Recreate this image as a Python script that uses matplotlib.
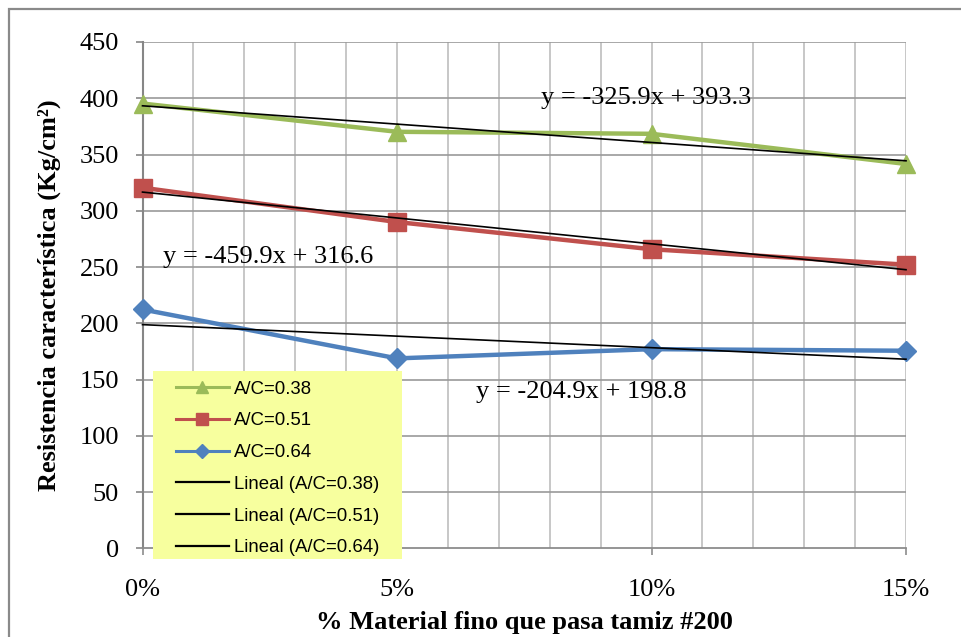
import matplotlib
matplotlib.use("Agg")
import matplotlib.pyplot as plt
from matplotlib.lines import Line2D
from matplotlib.patches import Rectangle
import numpy as np

# Fraction of fines passing sieve #200
fines = [0.00, 0.05, 0.10, 0.15]
x_ticks = [0.00, 0.05, 0.10, 0.15]
x_tick_labels = ["0%", "5%", "10%", "15%"]
y_ticks = [0, 50, 100, 150, 200, 250, 300, 350, 400, 450]

# Characteristic strength (Kg/cm2) for each water/cement ratio
series_names = ["A/C=0.38", "A/C=0.51", "A/C=0.64"]
strength_038 = [395.3, 370.2, 368.4, 341.6]
strength_051 = [320.5, 290.0, 265.8, 252.1]
strength_064 = [212.3, 168.8, 177.0, 175.6]

# Linear trend coefficients (y = slope * x + intercept)
trend_slopes = [-325.9, -459.9, -204.9]
trend_intercepts = [393.3, 316.6, 198.8]
trend_label_pos = [(0.099, 400.5), (0.0247, 259.0), (0.0863, 139.0)]

colors = ["#9BBB59", "#C0504D", "#4F81BD"]
markers = ["^", "s", "D"]
marker_sizes = [13, 13, 10]

W, H = 961, 637
fig = plt.figure(figsize=(W / 100, H / 100), dpi=100)

# Outer chart border (left and top edges visible)
fig.patches.append(Rectangle((8.5 / W, -0.1), 1.2, (H - 8.5) / H + 0.1,
                             transform=fig.transFigure, fill=False,
                             edgecolor="#8A8A8A", linewidth=1.6))

ax_left, ax_right = 142.5, 906.0
ax_top, ax_bottom = 42.0, 548.3
ax = fig.add_axes([ax_left / W, (H - ax_bottom) / H,
                   (ax_right - ax_left) / W, (ax_bottom - ax_top) / H])

ax.set_xlim(0, 0.15)
ax.set_ylim(0, 450)

# Grid: horizontal majors every 50, vertical lines every 1%
for yv in y_ticks[1:]:
    ax.axhline(yv, color="#9A9A9A", lw=1.2, zorder=0.5)
for xv in np.arange(1, 16) / 100:
    ax.axvline(xv, color="#BDBDBD", lw=1.2, zorder=0.4)

for side in ["top", "right"]:
    ax.spines[side].set_visible(False)
ax.spines["left"].set_color("#868686")
ax.spines["left"].set_linewidth(1.5)
ax.spines["bottom"].set_color("#8C8C8C")
ax.spines["bottom"].set_linewidth(1.3)

serif = ["Liberation Serif", "DejaVu Serif"]
sans = ["Liberation Sans", "DejaVu Sans"]

ax.set_xticks(x_ticks)
ax.set_xticklabels(x_tick_labels, family=serif, fontsize=19)
ax.set_yticks(y_ticks)
ax.set_yticklabels([str(v) for v in y_ticks], family=serif, fontsize=19)
ax.tick_params(axis="y", direction="out", length=5, width=1.2, color="#868686", pad=12)
ax.tick_params(axis="x", direction="out", length=5, width=1.2, color="#8C8C8C", pad=17)

series = [strength_038, strength_051, strength_064]
xs = np.array([0.0, 0.15])
for vals, c, m, ms in zip(series, colors, markers, marker_sizes):
    ax.plot(fines, vals, color=c, lw=3.2, marker=m, markersize=ms,
            markeredgecolor=c, zorder=3, clip_on=False)
for k, b in zip(trend_slopes, trend_intercepts):
    ax.plot(xs, k * xs + b, color="black", lw=1.2, zorder=4, clip_on=False)

for k, b, (tx, ty) in zip(trend_slopes, trend_intercepts, trend_label_pos):
    ax.text(tx, ty, f"y = {k:.1f}x + {b:.1f}", family=serif, fontsize=19,
            ha="center", va="center", zorder=5)

ax.set_xlabel("% Material fino que pasa tamiz #200", family=serif, fontsize=19,
              fontweight="bold", labelpad=7)
ax.set_ylabel("Resistencia característica (Kg/cm²)", family=serif, fontsize=19,
              fontweight="bold", labelpad=13)

# Legend panel
lg_l, lg_t, lg_r, lg_b = 153.0, 371.0, 402.0, 559.0
fig.patches.append(Rectangle((lg_l / W, (H - lg_b) / H), (lg_r - lg_l) / W, (lg_b - lg_t) / H,
                             transform=fig.transFigure, facecolor="#F7FF9E",
                             edgecolor="none", zorder=6))
handles = []
for c, m, ms in zip(colors, markers, [9, 9, 7]):
    handles.append(Line2D([], [], color=c, lw=2.2, marker=m, markersize=ms, markeredgecolor=c))
for _ in range(3):
    handles.append(Line2D([], [], color="black", lw=1.6))
labels = series_names + [f"Lineal ({n})" for n in series_names]
leg = fig.legend(handles, labels, loc="upper left",
                 bbox_to_anchor=(172 / W, (H - lg_t - 6) / H),
                 frameon=False, prop={"family": sans, "size": 13.4},
                 handlelength=2.85, handletextpad=0.3, labelspacing=0.79,
                 borderpad=0.2, borderaxespad=0)
leg.set_zorder(7)

fig.savefig("out.png", dpi=100)
